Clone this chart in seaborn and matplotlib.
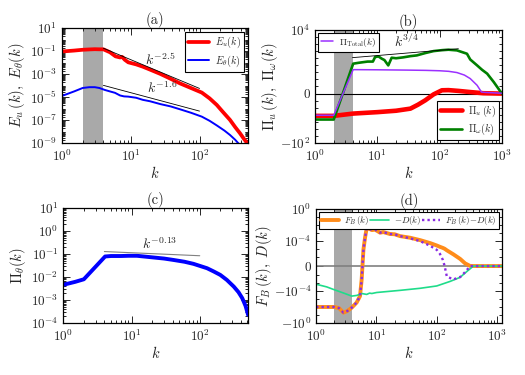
import numpy as np
import matplotlib
matplotlib.use("Agg")
import matplotlib.pyplot as plt
import seaborn as sns

sns.set_style("ticks")
plt.rcParams['font.family'] = ['cmr10', 'DejaVu Serif']
plt.rcParams['mathtext.fontset'] = 'cm'
plt.rcParams['axes.unicode_minus'] = False
plt.rcParams['axes.formatter.use_mathtext'] = True
plt.rcParams['xtick.direction'] = 'in'
plt.rcParams['ytick.direction'] = 'in'
plt.rcParams['xtick.top'] = True
plt.rcParams['ytick.right'] = True
plt.rcParams['xtick.major.size'] = 5
plt.rcParams['ytick.major.size'] = 5
plt.rcParams['xtick.minor.size'] = 2.5
plt.rcParams['ytick.minor.size'] = 2.5
plt.rcParams['xtick.minor.visible'] = True
plt.rcParams['ytick.minor.visible'] = True
plt.rcParams['axes.linewidth'] = 0.9
plt.rcParams['axes.edgecolor'] = 'black'

GRAY = '#a9a9a9'

# ---- panel (a): energy spectra (log10 values)
ka = [1, 1.5, 2, 2.5, 3, 3.5, 4, 5, 6, 7, 7.5, 8.2, 9.2, 12, 15, 19, 27, 38, 52,
      75, 108, 140, 178, 220, 277, 330, 387, 440, 494, 512]
eu_log = [-1.03, -0.95, -0.88, -0.85, -0.83, -0.84, -0.84, -1.1, -1.45, -1.55, -1.5,
          -1.75, -1.97, -2.15, -2.35, -2.6, -2.98, -3.4, -3.8, -4.2, -4.6, -5.1,
          -5.67, -6.3, -6.97, -7.6, -8.13, -8.6, -9.0, -9.15]
ka_t = [1, 1.5, 2, 2.5, 3, 3.5, 4.2, 5, 5.9, 7, 8, 9.2, 12, 15, 19, 27, 38, 52,
        75, 108, 140, 178, 230, 277, 330, 366, 400]
et_log = [-4.89, -4.5, -4.2, -4.13, -4.13, -4.2, -4.37, -4.5, -4.62, -4.85, -4.93,
          -4.95, -5.05, -5.23, -5.35, -5.6, -5.8, -6.05, -6.35, -6.69, -7.05, -7.45,
          -7.9, -8.28, -8.7, -9.0, -9.3]
ref_k = [4, 100]

# ---- panel (b): flux, symlog axis
kb = [1, 2, 4.1, 5, 6, 7, 8.5, 9.2, 10.4, 11.8, 13, 15, 17, 20, 26, 34, 43, 59,
      80, 110, 139, 190, 275, 310, 400, 480, 580, 740, 1000]
pi_w = [-0.04, -0.04, 0.15, 0.2, 0.25, 0.3, 0.3, 1.3, 1.66, 0.78, 0.5, 0.085, 1.07,
        0.9, 1.2, 1.8, 2.3, 5.0, 9.5, 13, 15, 12, 4.0, 0.6, 0.085, 0.02, 5.6e-3,
        3.5e-4, 0]
kb_tot = [1, 2, 4.1, 10, 30, 60, 100, 140, 190, 250, 310, 400, 470, 550, 1000]
pi_tot = [-0.0098, -0.0098, 0.021, 0.02, 0.018, 0.0165, 0.0145, 0.012, 0.008,
          3.5e-3, 1.1e-3, 1.2e-4, 2e-5, 1.5e-5, 5e-6]
kb_u = [1, 2, 4.1, 10, 20, 34, 45, 59, 80, 109, 139, 200, 310, 500, 1000]
pi_u = [-0.012, -0.012, -0.0056, -0.0035, -0.0022, -0.0011, -3e-4, -8.6e-5, -1e-5,
        4.3e-5, 4.5e-5, 3.5e-5, 2e-5, 5e-6, 0]
ref_kb = [4, 200]

# ---- panel (c): theta flux (log10 values)
kc = [1, 1.5, 2, 4.1, 5, 7, 9, 12, 19, 30, 41, 60, 81, 128, 160, 200, 250, 316,
      370, 420, 470, 512]
pth_log = [-2.33, -2.2, -2.09, -1.1, -1.08, -1.08, -1.07, -1.07, -1.13, -1.19,
           -1.25, -1.33, -1.42, -1.61, -1.75, -1.9, -2.12, -2.41, -2.65, -2.91,
           -3.25, -3.64]

# ---- panel (d): forcing / dissipation, symlog axis
kd = [1, 2, 2.4, 2.84, 3.3, 3.9, 4.7, 5.35, 5.7, 6.1, 6.5, 6.9, 7.5, 8.4, 9.5, 11.5,
      13, 16.8, 20, 24.7, 36, 53, 78, 100, 113, 126, 135, 147, 189, 244, 295, 358,
      500, 1200]
fb = [-0.0095, -0.0095, -0.013, -0.048, -0.03, -0.0115, -0.0027, -4.2e-4, -3.5e-6,
      9e-6, 3e-4, 4e-3, 3.6e-3, 2.3e-3, 2.6e-3, 1.1e-3, 1.3e-3, 7.5e-4, 7e-4,
      4.1e-4, 2.6e-4, 1.3e-4, 5.5e-5, 2.8e-5, 1.9e-5, 1.4e-5, 1.1e-5, 7e-6,
      2.2e-6, 8e-7, 3e-7, 1e-8, 0, 0]
fb_minus_d = [-0.0095, -0.0095, -0.013, -0.048, -0.03, -0.0115, -0.0027, -4.2e-4,
              -3.5e-6, 9e-6, 3e-4, 4e-3, 3.6e-3, 2.3e-3, 2.6e-3, 1.1e-3, 1.3e-3,
              7.5e-4, 7e-4, 4.1e-4, 2.2e-4, 9.8e-5, 2.5e-5, 8e-6, 2.5e-6, 7e-7,
              0, -1.6e-6, -3.5e-6, -1.8e-6, -6.7e-7, 0, 0, 0]
kd_d = [1, 1.5, 1.94, 3, 3.9, 4.7, 5.35, 5.7, 6.9, 7.7, 8.4, 10.1, 24.7, 53, 100,
        167, 244, 316, 405, 1200]
minus_d = [-1.4e-5, -3e-5, -6.2e-5, -2e-4, -4.2e-4, -3.5e-4, -2.5e-4, -2e-4,
           -2.6e-4, -1.8e-4, -2e-4, -1.5e-4, -8.1e-5, -4.5e-5, -2.3e-5, -6.2e-6,
           -1.95e-6, -6e-7, 0, 0]

fig = plt.figure(figsize=(5.25, 3.75), dpi=100)
ax_a = fig.add_axes([0.118, 0.618, 0.355, 0.307])
ax_b = fig.add_axes([0.600, 0.618, 0.356, 0.302])
ax_c = fig.add_axes([0.1206, 0.138, 0.352, 0.307])
ax_d = fig.add_axes([0.602, 0.138, 0.354, 0.305])

TICK_FS = 9.5
LAB_FS = 10.5


def common(ax, title, shade=True):
    ax.set_title(title, fontsize=LAB_FS, pad=3)
    ax.set_xlabel('$k$', fontsize=LAB_FS, labelpad=1)
    ax.tick_params(labelsize=TICK_FS, which='both', width=0.7)
    if shade:
        ax.axvspan(2, 4, color=GRAY, lw=0, zorder=0)


def legend_box(ax, **kw):
    opts = dict(fancybox=False, edgecolor='black', framealpha=1,
                labelspacing=0.3, borderpad=0.3, handletextpad=0.6)
    opts.update(kw)
    leg = ax.legend(**opts)
    leg.get_frame().set_linewidth(0.8)
    return leg


# (a)
ax = ax_a
ax.set_xscale('log')
ax.set_yscale('log')
sns.lineplot(x=ka, y=np.power(10.0, eu_log), ax=ax, color='red', lw=2.7,
             label='$E_u(k)$', legend=False)
sns.lineplot(x=ka_t, y=np.power(10.0, et_log), ax=ax, color='blue', lw=1.4,
             label=r'$E_\theta(k)$', legend=False)
rk = np.array(ref_k, dtype=float)
ax.plot(rk, 0.18 * (rk / 4) ** -2.5, color='black', lw=0.6)
ax.plot(rk, 1.07e-4 * (rk / 4) ** -1.6, color='black', lw=0.6)
ax.text(27, 10 ** -1.75, '$k^{-2.5}$', fontsize=10, ha='center', va='center')
ax.text(29, 10 ** -4.25, '$k^{-1.6}$', fontsize=10, ha='center', va='center')
ax.set_xlim(1, 512)
ax.set_ylim(1e-9, 1e1)
ax.set_yticks([10.0 ** e for e in range(1, -10, -2)])
ax.yaxis.set_minor_locator(matplotlib.ticker.LogLocator(base=10, subs='all', numticks=100))
ax.yaxis.set_minor_formatter(matplotlib.ticker.NullFormatter())
ax.set_ylabel(r'$E_u\,(k),\ E_\theta(k)$', fontsize=LAB_FS, labelpad=2)
common(ax, '(a)')
legend_box(ax, loc='upper right', fontsize=7.2, handlelength=2.1, borderaxespad=0.4)

# (b)
ax = ax_b
ax.set_xscale('log')
ax.set_yscale('symlog', linthresh=1e-4, linscale=1)
ax.axhline(0, color='black', lw=0.8, zorder=1)
sns.lineplot(x=kb_u, y=pi_u, ax=ax, color='red', lw=3.3,
             label=r'$\Pi_u\,(k)$', legend=False)
sns.lineplot(x=kb, y=pi_w, ax=ax, color='green', lw=1.9,
             label=r'$\Pi_\omega(k)$', legend=False)
sns.lineplot(x=kb_tot, y=pi_tot, ax=ax, color='#9b30ff', lw=1.1,
             label=r'$\Pi_{\rm Total}(k)$', legend=False)
rkb = np.array(ref_kb, dtype=float)
ax.plot(rkb, 1.1 * (rkb / 4) ** 0.75, color='black', lw=0.6)
ax.text(30, 200, '$k^{3/4}$', fontsize=10, ha='center', va='center')
ax.set_xlim(1, 1000)
ax.set_ylim(-100, 1e4)
ax.set_yticks([-100, 0, 1e4])
ax.set_yticklabels(['$-10^{2}$', '0', '$10^{4}$'])
ax.set_yticks([-10.0 ** e for e in range(-4, 2)] + [10.0 ** e for e in range(-4, 4)],
              minor=True)
ax.yaxis.set_minor_formatter(matplotlib.ticker.NullFormatter())
ax.set_ylabel(r'$\Pi_u\,(k),\ \Pi_\omega(k)$', fontsize=LAB_FS, labelpad=0)
common(ax, '(b)')
h = {ln.get_label(): ln for ln in ax.get_lines()}
leg1 = legend_box(ax, handles=[h[r'$\Pi_{\rm Total}(k)$']], loc='upper left',
                  fontsize=6.8, handlelength=1.3, borderaxespad=0.3)
ax.add_artist(leg1)
legend_box(ax, handles=[h[r'$\Pi_u\,(k)$'], h[r'$\Pi_\omega(k)$']], loc='lower right',
           fontsize=7.2, handlelength=2.2, borderaxespad=0.3)

# (c)
ax = ax_c
ax.set_xscale('log')
ax.set_yscale('log')
sns.lineplot(x=kc, y=np.power(10.0, pth_log), ax=ax, color='blue', lw=2.8, legend=False)
rk = np.array(ref_k, dtype=float)
ax.plot(rk, 0.13 * (rk / 4) ** -0.13, color='gray', lw=0.8)
ax.text(26, 10 ** -0.55, '$k^{-0.13}$', fontsize=10, ha='center', va='center')
ax.set_xlim(1, 512)
ax.set_ylim(1e-4, 1e1)
ax.set_yticks([10.0 ** e for e in range(1, -5, -1)])
ax.yaxis.set_minor_locator(matplotlib.ticker.LogLocator(base=10, subs='all', numticks=100))
ax.yaxis.set_minor_formatter(matplotlib.ticker.NullFormatter())
ax.set_ylabel(r'$\Pi_\theta(k)$', fontsize=LAB_FS, labelpad=2)
common(ax, '(c)', shade=False)

# (d)
ax = ax_d
ax.set_xscale('log')
ax.set_yscale('symlog', linthresh=1e-6, linscale=1)
ax.axhline(0, color='gray', lw=1.2, zorder=1)
sns.lineplot(x=kd, y=fb, ax=ax, color='#ff8c1a', lw=2.8,
             label='$F_B\\,(k)$', legend=False)
sns.lineplot(x=kd_d, y=minus_d, ax=ax, color='#1fdc8a', lw=1.2,
             label='$-D(k)$', legend=False)
sns.lineplot(x=kd, y=fb_minus_d, ax=ax, color='#8a2be2', lw=1.7,
             linestyle=(0, (1, 1.3)), label='$F_B\\,(k){-}D(k)$', legend=False)
ax.set_xlim(1, 1200)
ax.set_ylim(-1, 1)
ax.set_yticks([-1, -1e-4, 0, 1e-4, 1])
ax.set_yticklabels(['$-10^{0}$', '$-10^{-4}$', '0', '$10^{-4}$', '$10^{0}$'])
ax.set_yticks([-10.0 ** e for e in range(-6, 0) if e != -4] +
              [10.0 ** e for e in range(-6, 0) if e != -4], minor=True)
ax.yaxis.set_minor_formatter(matplotlib.ticker.NullFormatter())
ax.set_ylabel(r'$F_B\,(k),\ D(k)$', fontsize=LAB_FS, labelpad=0)
common(ax, '(d)')
legend_box(ax, loc='upper center', ncol=3, fontsize=6.5, handlelength=2.0,
           columnspacing=2.2, borderaxespad=0.3, handletextpad=0.6,
           borderpad=0.25, mode='expand')

fig.savefig('out.png', dpi=100)
